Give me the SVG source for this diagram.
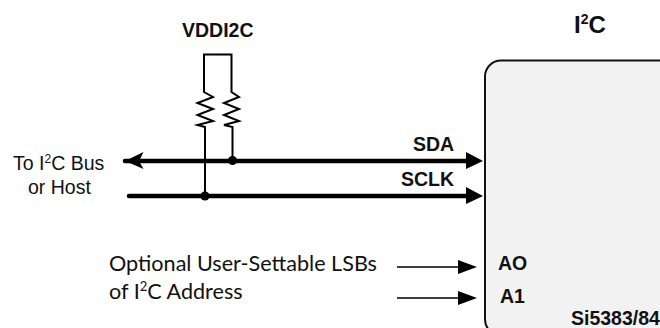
<svg xmlns="http://www.w3.org/2000/svg" width="660" height="328" viewBox="0 0 660 328">
<defs>
<style>
text{font-family:"Liberation Sans",Arial,sans-serif;fill:#111}
.b{font-weight:bold;font-size:19.5px}
.r{font-size:19.5px}
.l{font-family:Lato,"Liberation Sans",sans-serif;font-size:21.6px}
.w{fill:none;stroke:#000;stroke-width:2;stroke-linejoin:miter}
.bus{fill:none;stroke:#000;stroke-width:4.5;stroke-linecap:round}
.thin{fill:none;stroke:#000;stroke-width:1.500}
</style>
</defs>
<g id="chip">
<rect x="485" y="60.500" width="200" height="275" rx="16" ry="16" fill="#f2f2f2" stroke="#111" stroke-width="2"/>
<text class="b" x="498" y="270">AO</text>
<text class="b" x="500" y="303">A1</text>
<text class="b" x="571" y="325">Si5383/84</text>
</g>
<g id="title"><text x="574" y="33" font-weight="bold" font-size="24">I<tspan font-size="14" dy="-9">2</tspan><tspan dy="9">C</tspan></text></g>
<g id="vdd"><text class="b" x="182" y="37">VDDI2C</text></g>
<g id="connectors">
<path class="w" d="M205 196V127L197.500 125 213 121 197.500 115 213 109 197.500 103 213 97 204 92V54.500H231.500V92L239 97 224 103 239 109 224 115 239 121 224 125 232.500 127V160"/>
<path class="bus" d="M125 161H470M129 196H470"/>
<path d="M143.500 152L125 161 143.500 169 139 161Z M466 152L483 161 466 169Z M466 187L483 196 466 204Z" fill="#000"/>
<circle cx="232.500" cy="160.500" r="4.500" fill="#000"/>
<circle cx="205" cy="196" r="4.500" fill="#000"/>
<path class="thin" d="M397 267H460M397 298H460"/>
<path d="M458 260L477 267 458 274Z M458 291L477 298 458 305Z" fill="#000"/>
</g>
<g id="labels">
<text class="b" x="413" y="151">SDA</text>
<text class="b" x="401" y="186">SCLK</text>
<text class="r" x="13" y="170">To I<tspan font-size="12" dy="-7">2</tspan><tspan dy="7">C Bus</tspan></text>
<text class="r" x="28" y="194">or Host</text>
<text class="l" x="109" y="271">Optional User-Settable LSBs</text>
<text class="l" x="109" y="299">of I<tspan font-size="13" dy="-8">2</tspan><tspan dy="8">C Address</tspan></text>
</g>
</svg>
